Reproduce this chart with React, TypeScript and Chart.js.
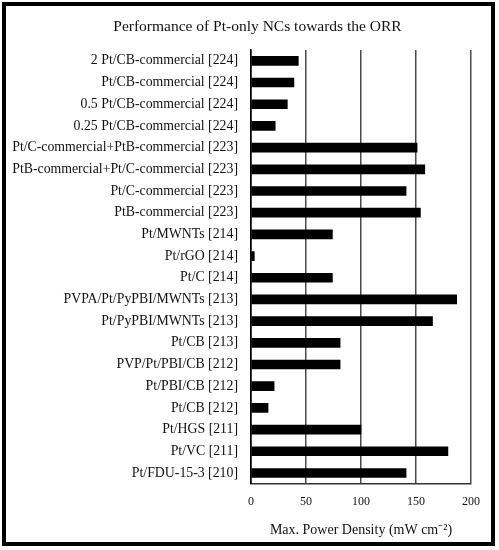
import { useEffect, useRef } from "react"
import { Chart, registerables } from "chart.js"

Chart.register(...registerables)

const catalysts = [
  "2 Pt/CB-commercial [224]",
  "Pt/CB-commercial [224]",
  "0.5 Pt/CB-commercial [224]",
  "0.25 Pt/CB-commercial [224]",
  "Pt/C-commercial+PtB-commercial [223]",
  "PtB-commercial+Pt/C-commercial [223]",
  "Pt/C-commercial [223]",
  "PtB-commercial [223]",
  "Pt/MWNTs [214]",
  "Pt/rGO [214]",
  "Pt/C [214]",
  "PVPA/Pt/PyPBI/MWNTs [213]",
  "Pt/PyPBI/MWNTs [213]",
  "Pt/CB [213]",
  "PVP/Pt/PBI/CB [212]",
  "Pt/PBI/CB [212]",
  "Pt/CB [212]",
  "Pt/HGS [211]",
  "Pt/VC [211]",
  "Pt/FDU-15-3 [210]",
]

const powerDensity = [43, 39, 33, 22, 151, 158, 141, 154, 74, 3, 74, 187, 165, 81, 81, 21, 15.5, 100, 179, 141]

const xTicks = [0, 50, 100, 150, 200]

const FONT = "'Liberation Serif', 'Times New Roman', serif"

export default function App() {
  const chartRef = useRef<HTMLCanvasElement>(null)
  const chartInstance = useRef<Chart | null>(null)

  useEffect(() => {
    if (!chartRef.current) return
    if (chartInstance.current) chartInstance.current.destroy()

    const ctx = chartRef.current.getContext("2d")
    if (!ctx) return

    chartInstance.current = new Chart(ctx, {
      type: "bar",
      data: {
        labels: catalysts,
        datasets: [
          {
            label: "Max. Power Density",
            data: powerDensity,
            backgroundColor: "#000000",
            borderWidth: 0,
            barThickness: 9,
          },
        ],
      },
      options: {
        indexAxis: "y",
        animation: false,
        responsive: true,
        maintainAspectRatio: false,
        layout: { padding: { left: 0, right: 28, top: 50, bottom: 11 } },
        plugins: {
          legend: { display: false },
          tooltip: { enabled: false },
        },
        scales: {
          x: {
            min: 0,
            max: 200,
            afterBuildTicks: (s: any) => {
              s.ticks = xTicks.map((v) => ({ value: v }))
            },
            grid: {
              drawTicks: false,
              color: (c: any) => (c.tick && c.tick.value === 0 ? "#000" : "#4a4a4a"),
              lineWidth: 1.5,
            },
            border: { display: true, color: "#333", width: 1.5 },
            ticks: {
              color: "#111",
              padding: 11,
              font: { family: FONT, size: 12 },
            },
            title: {
              display: true,
              text: "Max. Power Density (mW cm\u207B\u00B2)",
              color: "#111",
              font: { family: FONT, size: 14 },
              padding: { top: 2, bottom: 0 },
            },
          },
          y: {
            afterFit: (s: any) => {
              s.width = 251
            },
            grid: { display: false },
            border: { display: true, color: "#000", width: 1.5 },
            ticks: {
              color: "#111",
              padding: 5,
              font: { family: FONT, size: 13.8 },
            },
          },
        },
      },
    })

    return () => {
      if (chartInstance.current) {
        chartInstance.current.destroy()
        chartInstance.current = null
      }
    }
  }, [])

  return (
    <div style={{ position: "fixed", left: 0, top: 0, width: 499, height: 550, background: "#fff" }}>
      <canvas ref={chartRef}></canvas>
      <div
        style={{
          position: "absolute",
          left: 0,
          top: 16,
          width: 515,
          textAlign: "center",
          font: `15.5px ${FONT}`,
          lineHeight: "20px",
          color: "#111",
          whiteSpace: "nowrap",
        }}
      >
        Performance of Pt-only NCs towards the ORR
      </div>
      <div
        style={{
          position: "absolute",
          left: 2,
          top: 2,
          width: 485,
          height: 536,
          border: "4px solid #000",
          pointerEvents: "none",
        }}
      />
    </div>
  )
}
